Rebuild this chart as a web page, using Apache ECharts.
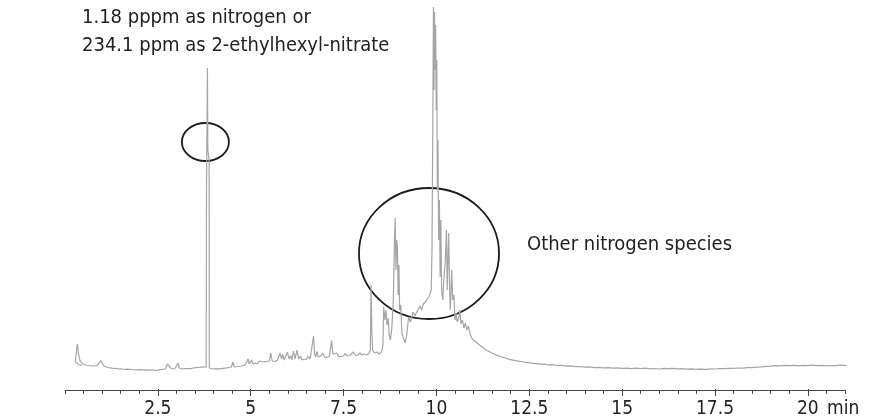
<!DOCTYPE html>
<html>
<head>
<meta charset="utf-8">
<script src="https://cdn.jsdelivr.net/npm/echarts@6/dist/echarts.min.js"></script>
<style>
html,body{margin:0;padding:0;background:#fff;}
#c{width:883px;height:419px;}
</style>
</head>
<body>
<div id="c"></div>
<script>
// x axis (minutes)
var xMin = 0, xMax = 21, majorStep = 2.5, minorStep = 0.5;
var tickLabels = ['2.5', '5', '7.5', '10', '12.5', '15', '17.5', '20'];

// detector signal: [time (min), response]
var traceEarly = [
  [0.46,24.5],[0.36,25.5],[0.28,28],[0.31,40],[0.335,46],[0.36,37],[0.40,30],[0.46,26.5],[0.55,25],
  [0.65,24.5],[0.72,24.2],[0.78,24],[0.86,24.5],[0.92,27],[0.96,29.5],[1.0,27],[1.05,24],[1.1,23.2],
  [1.15,22.5],[1.22,22.2],[1.3,21.5],[1.38,21.7],[1.45,21],[1.52,21.2],[1.6,20.5],[1.68,20.9],[1.75,20.6],
  [1.82,20.3],[1.9,20],[1.98,20.4],[2.05,20.2],[2.12,19.9],[2.2,20.1],[2.28,19.8],[2.35,20],[2.42,19.7],
  [2.5,19.9],[2.57,20.3],[2.62,20.2],[2.7,21],[2.76,26],[2.8,24],[2.86,21.5],[2.95,21],[3.0,24],
  [3.04,27],[3.08,22],[3.15,21],[3.22,21.3],[3.3,21.5],[3.38,21.4],[3.45,22],[3.52,22.3],[3.6,22.5],
  [3.66,23],[3.72,22.8],[3.77,23.5],[3.80,23],[3.81,200],[3.835,322],[3.845,240],[3.88,230],[3.885,22],
  [3.93,21]
];
var traceMid = [
  [4.0,21],[4.06,21.4],[4.1,21.5],[4.16,21.1],[4.2,21],[4.26,21.7],[4.3,22],[4.36,22.2],[4.4,22.5],
  [4.48,23],[4.52,28],[4.56,23],[4.61,23.3],[4.65,23.5],[4.7,23.2],[4.75,24],[4.8,24.4],[4.85,25],
  [4.9,27],[4.93,31],[4.96,26],[5.0,27],[5.02,30],[5.06,26],[5.12,27],[5.18,26],[5.23,29],[5.28,27],
  [5.35,28],[5.42,28.5],[5.5,29],[5.54,37],[5.58,29],[5.65,28.5],[5.72,30],[5.79,37],[5.83,31],
  [5.86,35.5],[5.9,30],[5.95,31],[5.99,38],[6.03,31],[6.08,34.5],[6.11,30],[6.15,39],[6.19,31],
  [6.25,40],[6.29,31],[6.34,34],[6.38,30],[6.44,31],[6.5,30.5],[6.55,34],[6.6,31],[6.65,32],
  [6.69,54],[6.72,36],[6.75,33],[6.78,38.5],[6.82,33],[6.88,34],[6.95,36.5],[7.0,32],[7.06,33],
  [7.12,34],[7.18,49.5],[7.21,36],[7.25,34],[7.32,37],[7.37,33],[7.43,33.5],[7.5,34],[7.54,36.5],
  [7.6,34],[7.67,34.5],[7.72,35],[7.76,38],[7.82,34.5],[7.88,35],[7.94,37],[8.0,35],[8.06,36],
  [8.12,35],[8.18,36.5]
];
var traceCluster = [
  [8.22,40],[8.24,105],[8.26,60],[8.28,40],[8.33,37],[8.4,38],[8.46,36],[8.52,38],[8.56,45],
  [8.58,83],[8.61,70],[8.64,80],[8.67,65],[8.7,72],[8.73,55],[8.76,50],[8.8,62],[8.84,90],
  [8.87,150],[8.89,172],[8.91,120],[8.93,150],[8.95,142],[8.97,95],[8.99,125],[9.01,80],[9.04,85],
  [9.07,57],[9.11,52],[9.16,47],[9.2,55],[9.25,73],[9.3,68],[9.37,78],[9.42,74],[9.47,78],
  [9.52,80],[9.56,84],[9.6,80],[9.65,86],[9.7,84],[9.74,90],[9.78,88],[9.82,95],[9.86,100],
  [9.88,140],[9.9,250],[9.92,383],[9.935,300],[9.95,378],[9.965,320],[9.98,365],[9.995,280],
  [10.01,330],[10.025,200],[10.04,250],[10.06,150],[10.08,190],[10.1,113],[10.12,170],[10.14,100],
  [10.17,90],[10.2,110],[10.24,130],[10.27,160],[10.29,100],[10.33,157],[10.35,110],[10.37,80],
  [10.39,95],[10.41,120],[10.44,90],[10.47,95],[10.5,70],[10.53,77],[10.56,68],[10.6,72],[10.63,80],
  [10.66,66],[10.7,70],[10.74,62],[10.78,67],[10.82,60],[10.86,64],[10.9,57],[10.94,53],[10.98,50]
];
var traceTail = [
  [11.03,49],[11.08,47.5],[11.12,46],[11.16,45],[11.2,43.5],[11.25,42.5],[11.3,41],[11.36,39.5],
  [11.42,38.5],[11.48,37.2],[11.55,36],[11.62,34.8],[11.7,34],[11.78,32.8],[11.86,32],[11.94,30.8],
  [12.02,30.2],[12.1,29.6],[12.2,28.8],[12.3,28.3],[12.4,27.5],[12.5,27.3],[12.6,26.5],[12.7,26.4],
  [12.8,25.8],[12.9,25.9],[13.0,25.1],[13.12,25.3],[13.25,24.5],[13.38,24.6],[13.5,23.9],[13.62,24.1],
  [13.75,23.3],[13.88,23.5],[14.0,22.8],[14.12,23.1],[14.25,22.4],[14.38,22.7],[14.5,22.1],[14.62,22.4],
  [14.75,21.8],[14.88,22.1],[15.0,21.6],[15.12,21.9],[15.25,21.4],[15.38,21.8],[15.5,21.5],[15.62,21.9],
  [15.75,21.2],[15.88,21.5],[16.0,21],[16.12,21.7],[16.25,21.3],[16.38,21.6],[16.5,21.1],[16.62,21.3],
  [16.75,20.8],[16.88,21.1],[17.0,20.6],[17.12,20.9],[17.25,20.7],[17.38,21.2],[17.5,21],[17.62,21.4],
  [17.75,21.3],[17.88,21.7],[18.0,21.6],[18.12,22],[18.25,21.9],[18.38,22.4],[18.5,22.4],[18.62,22.9],
  [18.75,23.1],[18.88,23.7],[19.0,23.8],[19.12,24.3],[19.25,24.1],[19.38,24.6],[19.5,24.3],[19.62,24.7],
  [19.75,24.2],[19.88,24.7],[20.0,24.4],[20.12,24.8],[20.25,24.3],[20.38,24.6],[20.5,24.1],[20.62,24.5],
  [20.75,24.3],[20.88,24.8],[21.0,24.6],[21.04,24.4]
];

// annotation ellipses in data units: [centre time, centre response, half-width (min), half-height (response)]
var peakCircle = [3.78, 248, 0.633, 19];
var speciesCircle = [9.80, 136.5, 1.885, 65.5];

var annotationLines = ['1.18 pppm as nitrogen or', '234.1 ppm as 2-ethylhexyl-nitrate'];
var speciesLabel = 'Other nitrogen species';

var trace = traceEarly.concat(traceMid, traceCluster, traceTail);

var FONT = '"Liberation Sans Narrow", "Arial Narrow", "DejaVu Sans Condensed", sans-serif';
var chart = echarts.init(document.getElementById('c'), null, {renderer: 'canvas'});

var gridLeft = 65, gridRight = 38, gridBottom = 29;
var plotW = 883 - gridLeft - gridRight;
var pxPerMin = plotW / (xMax - xMin);

chart.setOption({
  animation: false,
  backgroundColor: '#ffffff',
  grid: [
    {left: gridLeft, right: gridRight, top: 0, bottom: gridBottom},
    {left: gridLeft + majorStep * pxPerMin, width: (20 - majorStep) * pxPerMin, top: 0, bottom: gridBottom}
  ],
  xAxis: [
    {
      type: 'value', gridIndex: 0, min: xMin, max: xMax, interval: minorStep,
      axisLine: {show: true, lineStyle: {color: '#444', width: 1}},
      axisTick: {show: true, length: 4, lineStyle: {color: '#444', width: 1}},
      axisLabel: {show: false}, splitLine: {show: false},
      name: 'min', nameLocation: 'end', nameGap: -18,
      nameTextStyle: {fontFamily: FONT, fontSize: 19, color: '#222', verticalAlign: 'top', padding: [10, 0, 0, 0]}
    },
    {
      type: 'value', gridIndex: 1, min: majorStep, max: 20, interval: majorStep,
      axisLine: {show: false},
      axisTick: {show: true, length: 7, lineStyle: {color: '#444', width: 1}},
      axisLabel: {
        show: true, margin: 11, fontFamily: FONT, fontSize: 19, color: '#222',
        formatter: function (v) {
          var i = Math.round(v / majorStep) - 1;
          return tickLabels[i] || '';
        }
      },
      splitLine: {show: false}
    }
  ],
  yAxis: [
    {type: 'value', gridIndex: 0, min: 0, max: 390, show: false, splitLine: {show: false}},
    {type: 'value', gridIndex: 1, min: 0, max: 390, show: false, splitLine: {show: false}}
  ],
  series: [{
    type: 'line', xAxisIndex: 0, yAxisIndex: 0, data: trace,
    showSymbol: false, symbol: 'none', smooth: false,
    lineStyle: {color: '#a5a5a5', width: 1.2}
  }]
});

function ellipseShape(c) {
  var ctr = chart.convertToPixel({gridIndex: 0}, [c[0], c[1]]);
  var ex = chart.convertToPixel({gridIndex: 0}, [c[0] + c[2], c[1] + c[3]]);
  return {cx: ctr[0], cy: ctr[1], rx: Math.abs(ex[0] - ctr[0]), ry: Math.abs(ctr[1] - ex[1])};
}

chart.setOption({
  graphic: [
    {type: 'ellipse', shape: ellipseShape(peakCircle), style: {fill: null, stroke: '#1c1c1c', lineWidth: 1.8}},
    {type: 'ellipse', shape: ellipseShape(speciesCircle), style: {fill: null, stroke: '#1c1c1c', lineWidth: 1.8}},
    {type: 'text', left: 82, top: 8, style: {text: annotationLines[0], font: '20px ' + FONT, fill: '#222'}},
    {type: 'text', left: 82, top: 36, style: {text: annotationLines[1], font: '20px ' + FONT, fill: '#222'}},
    {type: 'text', left: 527, top: 235, style: {text: speciesLabel, font: '20px ' + FONT, fill: '#222'}}
  ]
});
</script>
</body>
</html>
